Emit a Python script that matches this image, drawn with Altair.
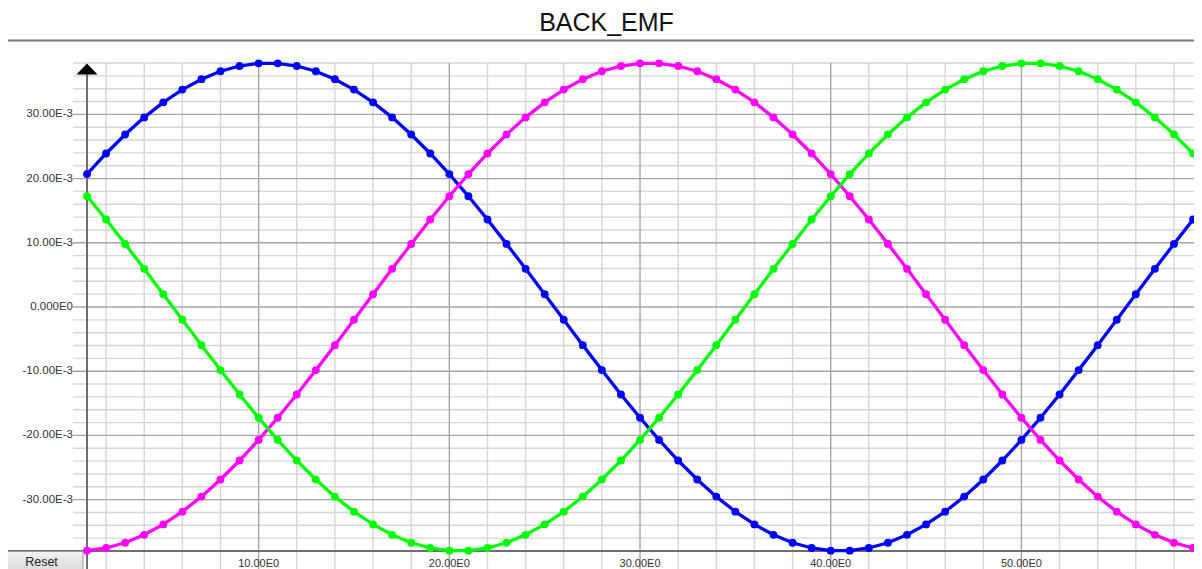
import altair as alt
import pandas as pd

# ---- data (mV) ----
x_vals = list(range(1, 61))
phase_blue = [20.70, 23.91, 26.87, 29.53, 31.87, 33.86, 35.48, 36.71, 37.53, 37.95,
              37.95, 37.53, 36.71, 35.48, 33.86, 31.87, 29.53, 26.87, 23.91, 20.70,
              17.25, 13.62, 9.83, 5.94, 1.99, -1.99, -5.94, -9.83, -13.62, -17.25,
              -20.70, -23.91, -26.87, -29.53, -31.87, -33.86, -35.48, -36.71, -37.53, -37.95,
              -37.95, -37.53, -36.71, -35.48, -33.86, -31.87, -29.53, -26.87, -23.91, -20.70,
              -17.25, -13.62, -9.83, -5.94, -1.99, 1.99, 5.94, 9.83, 13.62, 17.25]
phase_magenta = [-37.95, -37.53, -36.71, -35.48, -33.86, -31.87, -29.53, -26.87, -23.91, -20.70,
                 -17.25, -13.62, -9.83, -5.94, -1.99, 1.99, 5.94, 9.83, 13.62, 17.25,
                 20.70, 23.91, 26.87, 29.53, 31.87, 33.86, 35.48, 36.71, 37.53, 37.95,
                 37.95, 37.53, 36.71, 35.48, 33.86, 31.87, 29.53, 26.87, 23.91, 20.70,
                 17.25, 13.62, 9.83, 5.94, 1.99, -1.99, -5.94, -9.83, -13.62, -17.25,
                 -20.70, -23.91, -26.87, -29.53, -31.87, -33.86, -35.48, -36.71, -37.53, -37.95]
phase_green = [17.25, 13.62, 9.83, 5.94, 1.99, -1.99, -5.94, -9.83, -13.62, -17.25,
               -20.70, -23.91, -26.87, -29.53, -31.87, -33.86, -35.48, -36.71, -37.53, -37.95,
               -37.95, -37.53, -36.71, -35.48, -33.86, -31.87, -29.53, -26.87, -23.91, -20.70,
               -17.25, -13.62, -9.83, -5.94, -1.99, 1.99, 5.94, 9.83, 13.62, 17.25,
               20.70, 23.91, 26.87, 29.53, 31.87, 33.86, 35.48, 36.71, 37.53, 37.95,
               37.95, 37.53, 36.71, 35.48, 33.86, 31.87, 29.53, 26.87, 23.91, 20.70]
series_names = ["Blue", "Magenta", "Green"]
series_colors = ["#0000ff", "#ff00ff", "#00ff00"]

x_major = [10, 20, 30, 40, 50]
x_minor = [2, 4, 6, 8, 12, 14, 16, 18, 22, 24, 26, 28, 32, 34, 36, 38,
           42, 44, 46, 48, 52, 54, 56, 58]
y_major = [-30, -20, -10, 0, 10, 20, 30]
y_minor = [-38, -36, -34, -32, -28, -26, -24, -22, -18, -16, -14, -12, -8, -6, -4, -2,
           2, 4, 6, 8, 12, 14, 16, 18, 22, 24, 26, 28, 32, 34, 36, 38]

W, H = 1107, 488
FONT = "Liberation Sans"

rows = []
for name, vals in zip(series_names, [phase_blue, phase_magenta, phase_green]):
    for xv, v in zip(x_vals, vals):
        rows.append({"x": xv, "v": v, "s": name})
df = pd.DataFrame(rows)

xs = alt.Scale(domain=[1, 59.05], nice=False, zero=False)
ys = alt.Scale(domain=[-38, 38], nice=False, zero=False)
cs = alt.Scale(domain=series_names, range=series_colors)

one = alt.Data(values=[{"a": 1}])

vminor = alt.Chart(pd.DataFrame({"x": x_minor})).mark_rule(color="#d6d6d6", strokeWidth=1.4).encode(
    x=alt.X("x:Q", scale=xs, axis=None), y=alt.value(0), y2=alt.value(H + 20))
vmajor = alt.Chart(pd.DataFrame({"x": x_major})).mark_rule(color="#a4a4a4", strokeWidth=1.4).encode(
    x=alt.X("x:Q", scale=xs, axis=None), y=alt.value(0), y2=alt.value(H + 20))
hminor = alt.Chart(pd.DataFrame({"y": y_minor})).mark_rule(color="#d6d6d6", strokeWidth=1.4).encode(
    y=alt.Y("y:Q", scale=ys, axis=None), x=alt.value(-14), x2=alt.value(W + 5))
hmajor = alt.Chart(pd.DataFrame({"y": y_major})).mark_rule(color="#a4a4a4", strokeWidth=1.4).encode(
    y=alt.Y("y:Q", scale=ys, axis=None), x=alt.value(-14), x2=alt.value(W + 5))

yaxis_line = alt.Chart(one).mark_rule(color="#6e6e6e", strokeWidth=2).encode(
    x=alt.value(0), y=alt.value(10), y2=alt.value(H + 20))
xaxis_line = alt.Chart(one).mark_rule(color="#6e6e6e", strokeWidth=2).encode(
    y=alt.value(H), x=alt.value(-81), x2=alt.value(W + 5))

lines = alt.Chart(df).mark_line(strokeWidth=3.3).encode(
    x=alt.X("x:Q", scale=xs, axis=None),
    y=alt.Y("v:Q", scale=ys, axis=None),
    color=alt.Color("s:N", scale=cs, legend=None),
    detail="s:N")
points = alt.Chart(df).mark_circle(size=62, opacity=1).encode(
    x=alt.X("x:Q", scale=xs, axis=None),
    y=alt.Y("v:Q", scale=ys, axis=None),
    color=alt.Color("s:N", scale=cs, legend=None))

arrow_up = alt.Chart(one).mark_point(
    shape="M-1,0.52L1,0.52L0,-0.52Z", filled=True, size=441, color="#000000", opacity=1, strokeWidth=0
).encode(x=alt.value(0), y=alt.value(6))

xlabels = alt.Chart(pd.DataFrame({"x": x_major})).transform_calculate(
    lab="format(datum.x, '.2f') + 'E0'"
).mark_text(font=FONT, fontSize=11, color="#333333", baseline="alphabetic", align="center").encode(
    x=alt.X("x:Q", scale=xs, axis=None), y=alt.value(H + 16), text="lab:N")
ylabels = alt.Chart(pd.DataFrame({"y": y_major})).transform_calculate(
    lab="datum.y == 0 ? '0.000E0' : (datum.y < 0 ? '-' : '') + format(abs(datum.y), '.2f') + 'E-3'"
).mark_text(font=FONT, fontSize=11.5, color="#333333", baseline="middle", align="right").encode(
    y=alt.Y("y:Q", scale=ys, axis=None), x=alt.value(-14), text="lab:N")

title = alt.Chart(one).mark_text(
    text="BACK_EMF", font=FONT, fontSize=25, color="#111111", baseline="alphabetic", align="center"
).encode(x=alt.value(519.5), y=alt.value(-32))
sep = alt.Chart(one).mark_rule(color="#777777", strokeWidth=2).encode(
    y=alt.value(-22.5), x=alt.value(-81), x2=alt.value(W + 5))

button = alt.Chart(one).mark_rect(
    fill={"gradient": "linear", "x1": 0, "y1": 0, "x2": 0, "y2": 1,
          "stops": [{"offset": 0, "color": "#f2f2f2"}, {"offset": 1, "color": "#d6d6d6"}]},
    stroke="#9a9a9a", strokeWidth=1
).encode(x=alt.value(-80.5), x2=alt.value(-4), y=alt.value(H + 0.5), y2=alt.value(H + 24))
button_text = alt.Chart(one).mark_text(
    text="Reset", font=FONT, fontSize=12.5, color="#222222", baseline="alphabetic", align="center"
).encode(x=alt.value(-45.5), y=alt.value(H + 15))

chart = alt.layer(
    vminor, hminor, vmajor, hmajor, yaxis_line, xaxis_line,
    lines, points, arrow_up, xlabels, ylabels,
    title, sep, button, button_text
).properties(
    width=W, height=H,
    autosize=alt.AutoSizeParams(type="none"),
    padding={"left": 79, "top": 55, "right": 0, "bottom": 18},
    background="#ffffff"
).configure_view(stroke=None)

chart.save("out.html", embed_options={"renderer": "svg", "actions": False})
